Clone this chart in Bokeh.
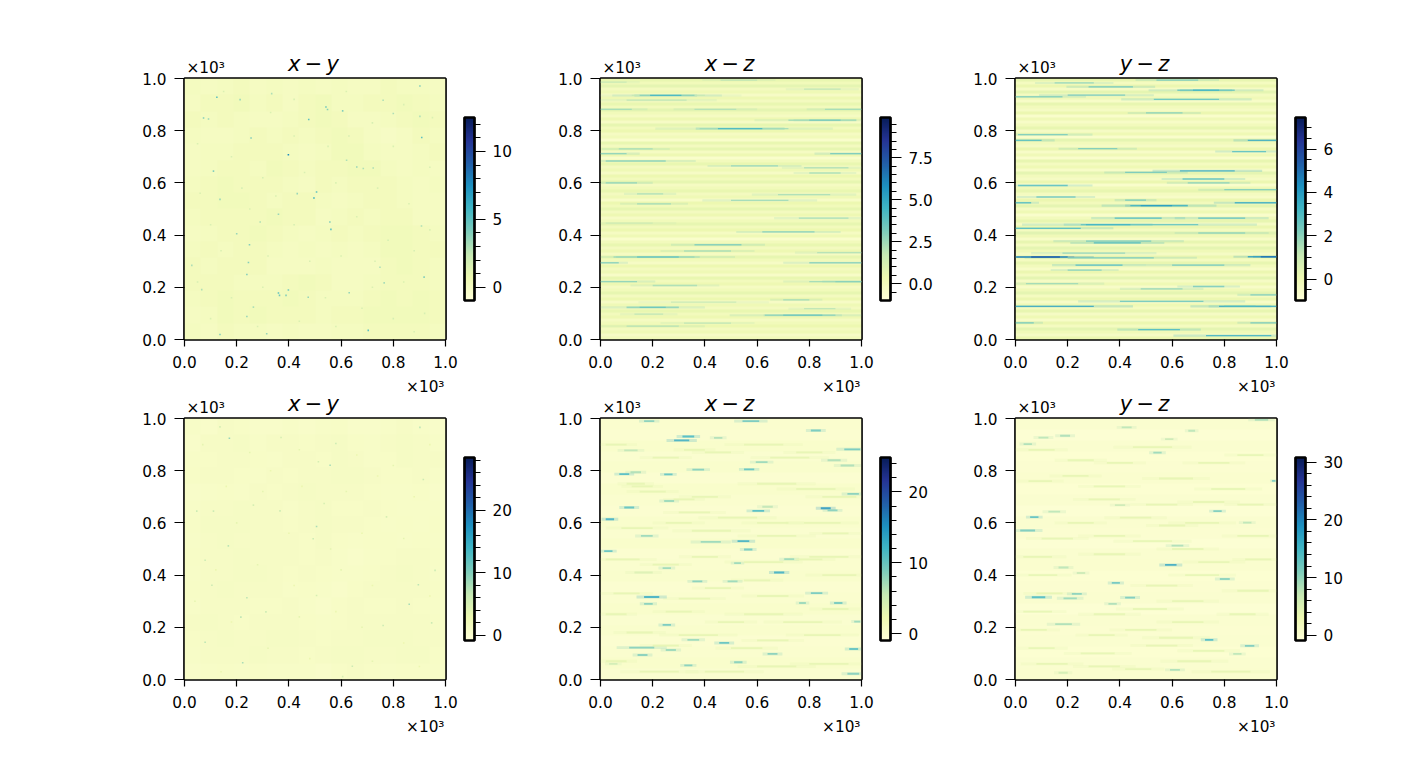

import numpy as np
from bokeh.embed import file_html
from bokeh.layouts import column, row
from bokeh.models import ColorBar, ColumnDataSource, FixedTicker, Label, LinearColorMapper, NumeralTickFormatter, Range1d
from bokeh.palettes import YlGnBu
from bokeh.plotting import figure
from bokeh.resources import INLINE

# ---------- values (positions in units of 10^3) ----------
AXIS_TICKS = [0.0, 0.2, 0.4, 0.6, 0.8, 1.0]
TITLES = ["x\u2009\u2212\u2009y", "x\u2009\u2212\u2009z", "y\u2009\u2212\u2009z"]

# colour limits of every panel
xy1_lim = (-0.98, 12.5)
xz1_lim = (-1.0, 9.9)
yz1_lim = (-0.99, 7.46)
xy2_lim = (-0.85, 28.4)
xz2_lim = (-0.96, 24.85)
yz2_lim = (-0.9, 30.8)

# colourbar ticks
xy1_major, xy1_minor = [0, 5, 10], [-1, 1, 2, 3, 4, 6, 7, 8, 9, 11, 12]
xz1_major, xz1_minor = [0.0, 2.5, 5.0, 7.5], [-0.5, 0.5, 1, 1.5, 2, 3, 3.5, 4, 4.5, 5.5, 6, 6.5, 7, 8, 8.5, 9, 9.5]
yz1_major, yz1_minor = [0, 2, 4, 6], [-0.5, 0.5, 1, 1.5, 2.5, 3, 3.5, 4.5, 5, 5.5, 6.5, 7]
xy2_major, xy2_minor = [0, 10, 20], [2, 4, 6, 8, 12, 14, 16, 18, 22, 24, 26, 28]
xz2_major, xz2_minor = [0, 10, 20], [2, 4, 6, 8, 12, 14, 16, 18, 22, 24]
yz2_major, yz2_minor = [0, 10, 20, 30], [2, 4, 6, 8, 12, 14, 16, 18, 22, 24, 26, 28]

# coarse background of the x-y panels, top row first
xy1_grid = [
    [.1,.0,.1,.2,.0,.1,.0,.1,.0,.1,.0,.0,.2,.1,.1,.0],
    [.0,.2,.2,.3,.1,.2,.0,.2,.3,.1,.1,.2,.2,.3,.2,.1],
    [.2,.1,.2,.1,.0,.0,.1,.2,.3,.2,.0,.0,.1,.2,.3,.2],
    [.1,.0,.0,.1,.2,.1,.2,.1,.2,.3,.2,.0,-.1,.0,.2,.1],
    [.0,.1,.1,.2,.2,.2,.1,.0,.1,.3,.3,.1,.0,.0,.1,.2],
    [.0,.1,.2,.2,.1,.3,.2,.1,.2,.2,.3,.3,.1,.0,.1,.0],
    [.1,.2,.3,.2,.2,.2,.1,.0,.2,.1,.2,.2,.2,.1,.0,.1],
    [.2,.2,.3,.3,.2,.1,.2,.2,.1,.0,.1,.2,.2,.1,.0,.0],
    [.1,.2,.2,.2,.2,.3,.2,.2,.0,.1,.2,.1,.2,.2,.0,.0],
    [.0,.1,.2,.2,.3,.2,.1,.0,.1,.2,.1,.2,.3,.3,.2,.1],
    [.1,.2,.1,.2,.2,.1,.0,.1,.0,.1,.0,.1,.3,.3,.2,.2],
    [.2,.1,.2,.2,.2,.0,.0,.0,.1,.0,.0,.0,.2,.3,.2,.1],
    [.2,.2,.2,.1,.1,.1,.2,.3,.2,.0,.0,.1,.2,.2,.2,.1],
    [.1,.2,.3,.2,.2,.2,.3,.2,.1,.1,.1,.2,.3,.2,.3,.2],
    [.0,.1,.3,.2,.3,.2,.2,.2,.1,.2,.2,.3,.3,.3,.3,.2],
    [.1,.0,.2,.1,.1,.0,.1,.0,.0,.1,.1,.2,.2,.2,.2,.1],
]
xy2_grid = [
    [.8,.7,1.0,.9,.7,.7,.8,.7,.8,.9,.7,.7,.8,1.0,.8,.7],
    [.7,1.0,1.0,1.1,.8,1.0,1.0,.9,1.0,1.1,.9,.8,1.0,1.2,1.0,.8],
    [.8,.9,1.0,1.0,.9,.8,1.0,1.0,.9,1.1,1.0,.8,.9,1.1,1.0,1.0],
    [.9,1.0,1.0,.9,.8,1.0,.9,1.0,1.0,1.2,1.1,1.0,.9,.9,1.0,.8],
    [.7,.8,.9,.8,1.0,.9,1.0,1.1,1.0,1.0,1.0,.9,.8,.8,.9,.7],
    [.8,1.0,1.0,1.1,1.0,1.0,.8,1.0,1.1,.9,.9,1.0,.9,.8,.8,.8],
    [.9,1.1,1.1,1.1,1.0,1.0,.9,1.0,1.2,1.0,1.0,.9,.8,.9,.8,.9],
    [.8,1.0,1.1,1.0,1.0,1.0,1.0,.9,1.1,.9,.8,.9,.9,.8,.9,.8],
    [.9,1.0,1.0,1.1,1.0,1.0,1.0,.9,1.0,.8,.7,.8,.9,1.0,1.0,.9],
    [.8,1.0,1.0,1.1,1.1,1.0,.9,1.0,.9,.8,.8,.9,1.0,1.1,1.0,.8],
    [.9,1.0,1.1,1.0,1.0,1.0,.8,.9,.8,.7,.9,1.0,1.0,1.0,1.0,.9],
    [.8,1.0,1.0,1.0,.9,.9,1.0,.8,.7,.9,1.0,.9,.9,1.0,.9,.8],
    [1.0,1.1,1.0,.9,1.0,1.0,1.0,.9,.8,.9,1.0,1.0,1.0,1.0,1.0,.9],
    [.9,1.0,1.1,1.0,1.0,1.1,1.1,1.0,.9,1.0,1.0,1.1,1.1,1.1,1.0,1.0],
    [.8,1.0,1.0,1.0,1.1,1.0,1.0,.9,1.0,1.1,1.1,1.0,1.0,1.1,1.1,.9],
    [.7,.8,.9,.8,.9,.8,.8,.8,.7,.9,1.0,.9,.8,.9,.9,.8],
]

# bright specks of the x-y panels: (x, y, value)
xy1_specks = [(.124,.928,5),(.213,.919,3.5),(.073,.849,4),(.092,.845,3.5),(.398,.708,7.5),(.496,.542,6),(.506,.565,5),
    (.542,.891,4.5),(.548,.881,4),(.476,.843,5),(.606,.876,4),(.255,.772,4),(.909,.774,5),(.111,.645,4),(.66,.661,3.5),
    (.685,.655,3),(.723,.657,3),(.621,.687,3),(.432,.559,3.5),(.557,.45,4),(.561,.422,5),(.36,.48,3.5),(.29,.45,3),
    (.136,.537,3.5),(.2,.405,3.5),(.249,.363,4),(.245,.295,4),(.028,.284,3),(.239,.249,4),(.36,.178,5),(.364,.169,4.5),
    (.398,.19,4.5),(.389,.169,4),(.474,.162,3.5),(.631,.179,3.5),(.704,.035,5),(.136,.019,4),(.315,.022,3.5),(.066,.191,3),
    (.264,.124,3),(.239,.088,3.5),(.918,.239,4),(.749,.277,3),(.902,.971,4),(.902,.855,3),(.761,.917,3),(.8,.866,3),
    (.908,.435,3),(.765,.217,3.2),(.334,.942,3),
    (.15,.95,1.6),(.33,.87,1.5),(.42,.92,1.6),(.62,.95,1.5),(.72,.83,1.7),(.84,.9,1.6),(.95,.85,1.5),(.05,.75,1.5),
    (.18,.7,1.6),(.3,.62,1.7),(.42,.78,1.5),(.55,.74,1.6),(.63,.78,1.7),(.8,.74,1.5),(.94,.66,1.6),(.06,.56,1.5),
    (.22,.58,1.7),(.35,.55,1.5),(.46,.64,1.6),(.58,.6,1.5),(.74,.58,1.6),(.86,.52,1.5),(.1,.44,1.6),(.25,.5,1.5),
    (.42,.44,1.7),(.66,.47,1.5),(.78,.38,1.8),(.88,.34,1.7),(.94,.42,1.5),(.14,.34,1.6),(.32,.32,1.5),(.48,.3,1.6),
    (.6,.32,1.5),(.73,.3,1.6),(.84,.22,1.5),(.05,.22,1.7),(.18,.16,1.6),(.3,.2,1.5),(.54,.16,1.5),(.68,.12,1.6),
    (.8,.08,1.8),(.92,.1,1.7),(.44,.07,1.5),(.28,.05,1.6),(.1,.08,1.5),(.58,.05,1.5),(.88,.03,1.6),(.72,.2,1.5)]
xy2_specks = [(.172,.924,9),(.58,.904,6),(.558,.821,8),(.902,.966,7),(.915,.766,6),(.111,.645,6),(.366,.646,6),(.506,.586,8),
    (.493,.539,6),(.168,.512,7),(.079,.457,6),(.105,.361,6),(.239,.313,7),(.216,.239,7),(.312,.259,6),(.861,.288,8),
    (.896,.363,7),(.947,.217,6),(.079,.143,7),(.223,.064,8),(.643,.051,6),(.513,.834,5),(.37,.927,5),(.136,.968,5),
    (.047,.645,6),(.264,.668,5),(.535,.674,5),(.774,.623,5),(.96,.418,6),(.606,.011,5),(.761,.207,6),(.506,.322,5),
    (.07,.9,3.5),(.25,.87,3.5),(.33,.8,3),(.44,.88,3.5),(.66,.86,3),(.8,.82,3.5),(.94,.9,3),(.16,.74,3),(.3,.72,3.5),
    (.45,.74,3),(.62,.72,3.5),(.74,.78,3),(.88,.7,3),(.2,.6,3.5),(.4,.56,3),(.56,.5,3.5),(.68,.56,3),(.84,.54,3.5),
    (.12,.42,3),(.28,.44,3.5),(.42,.36,3),(.6,.42,3.5),(.72,.36,3),(.94,.32,3),(.04,.3,3.5),(.18,.22,3),(.44,.24,3.5),
    (.58,.26,3),(.68,.2,3.5),(.84,.14,3),(.32,.12,3.5),(.48,.08,3),(.72,.07,3.5),(.9,.05,3),(.14,.03,3)]

# horizontal banding of the top x-z and y-z panels, top row first
xz1_rows = [.5,.1,.7,-.1,.2,-.3,.3,-.1,.5,.0,.7,.1,-.2,.3,-.3,.6,.0,.4,-.2,.1,-.5,.5,-.1,.6,-.2,.3,-.5,.0,.5,-.1,
    .2,-.3,.4,.0,.6,-.2,.1,.5,-.1,.2,-.4,.4,.1,.6,-.1,.3,-.3,.1,.6,.0,.4,-.2,.2,-.5,.0,.5,-.1,.3,-.2,.6,
    .1,-.3,.4,-.1,.2,-.4,.5,.0,.3,-.2,.1,.6,-.1,.4,-.3,.2,-.1,.5,.0,.3,-.2,.1,.4,-.1,.2,-.3,.1]
yz1_rows = [.2,-.3,.1,-.4,.3,-.3,-.1,-.5,.2,-.2,-.4,.1,-.6,-.1,-.5,-.2,.2,-.4,.0,-.6,.3,-.2,-.4,.1,-.5,-.1,-.6,.2,-.3,.0,
    -.5,.3,-.2,-.4,.1,-.6,-.1,.2,-.3,-.5,.1,-.2,.3,-.4,.0,-.6,-.2,.2,-.4,.1,-.3,.4,-.1,-.5,.2,-.3,.3,-.1,-.4,.1,
    -.3,.2,-.2,-.5,.1,-.3,.3,-.4,.0,-.5,-.1,.3,-.3,.1,-.5,.0,-.3,.2,-.4,.0,-.5,.1,-.3,.3,-.1,-.4,.1]
xz2_rows = [.0,-.2,.2,-.1,.1,-.2,.2,.0,-.2,.1,-.1,.2,-.2,.0,.1,-.2,.0,.2,-.1,.1,-.2,.0,.2,-.1]
yz2_rows = [.1,-.2,.2,-.1,.0,.3,-.1,.1,-.2,.2,.0,-.2,.1,.3,-.1,.0,.2,-.2,.1,.0,.2,-.1,.1,.3]

# streaks: (y, x start, x end, value)
xz1_streaks = [(.935,.12,.40,1.8),(.935,.15,.36,3),(.935,.19,.31,4.5),(.917,.10,.33,2),(.882,0,.12,2.5),(.882,.36,.52,2.2),
    (.882,.86,1,2.5),(.84,.72,.98,2.5),(.84,.8,.92,3.2),(.959,.78,.92,2),(.808,.38,.72,2.5),(.808,.45,.62,4.5),(.73,.07,.2,2.5),
    (.712,0,.1,3),(.712,.88,1,3.5),(.684,.02,.25,3),(.665,.5,.68,2.8),(.658,.78,.95,2.2),(.638,.8,.92,2.4),(.6,.02,.14,3),
    (.558,.14,.24,2.4),(.555,.68,.88,2.4),(.533,.5,.72,2.6),(.52,.14,.27,2.6),(.465,.76,.95,2.5),(.446,.02,.2,1.6),
    (.412,.62,.82,3.2),(.363,.36,.54,3.2),(.339,.32,.5,2.4),(.333,.83,1,2.2),(.316,.05,.36,2.6),(.316,.14,.3,3.6),
    (.294,0,.07,3),(.294,.8,1,3),(.222,0,.14,3),(.222,.8,1,2.6),(.222,.9,1,3),(.207,.2,.37,2.4),(.152,.7,.8,2.6),
    (.143,.27,.52,1.8),(.123,.1,.3,2.8),(.123,.15,.25,3.6),(.118,.78,.9,2),(.097,.13,.24,2),(.093,.63,.9,2.8),
    (.093,.7,.85,3.4),(.051,.1,.3,2.2),(.063,.32,.5,2),(.994,.46,.6,2),(.986,0,.1,1.8)]
yz1_streaks = [(.316,0,.2,4.5),(.316,.06,.17,5.5),(.317,.89,1,4),(.317,.94,1,5),(.313,.2,.53,2.5),(.285,.23,.41,3.2),
    (.266,.2,.33,2.2),(.426,0,.25,3.2),(.44,.25,.7,2.8),(.44,.27,.44,3.3),(.465,.38,.56,3.3),(.465,.7,.88,3),(.37,.3,.48,3.3),
    (.377,.27,.52,2.5),(.513,.44,.66,3.4),(.513,.48,.6,4),(.534,.42,.5,2.6),(.524,.84,1,3.6),(.524,0,.06,3),(.546,.08,.23,2.5),
    (.59,.01,.2,3),(.646,.63,.84,3.6),(.64,.42,.58,2.5),(.615,.64,.8,2.8),(.6,.66,.82,2.2),(.574,.8,1,2.3),(.763,0,.1,3),
    (.763,.89,1,3.6),(.785,.01,.2,2.4),(.72,.83,.96,3),(.731,.24,.39,2.4),(.955,.62,.84,2.6),(.955,.68,.78,3.2),(.92,.53,.78,2.8),
    (.936,.2,.42,2.5),(.93,0,.18,2.2),(.983,.15,.3,2),(.968,.28,.45,2.6),(.994,.54,.7,2.4),(.868,.5,.64,2.2),(.127,0,.3,3.8),
    (.127,.78,1,3.6),(.127,.8,.92,3),(.146,.4,.72,2.6),(.038,.47,.63,3.2),(.015,.73,.98,3.5),(.203,.68,.8,2.4),(.194,.48,.64,2),
    (.408,.7,.88,2),(.285,.6,.8,2.6),(.331,.18,.42,2),(.214,.04,.24,1.8),(.064,0,.07,2.6),(.064,.9,1,2.5),(.171,.9,1,2.3)]
xz2_streaks = [(.9,.02,.1,3),(.85,.2,.3,3),(.88,.32,.4,3),(.87,.4,.5,3),(.9,.55,.7,3),(.85,.65,.8,3),(.87,.75,.85,3),
    (.74,.12,.2,3),(.72,.15,.25,3),(.75,.1,.17,3),(.69,.28,.36,3),(.7,.35,.45,3),(.75,.6,.75,3),(.73,.75,.9,3),(.7,.85,.98,3),
    (.64,.3,.42,3),(.6,.25,.35,3),(.62,.45,.6,3),(.6,.6,.72,3),(.6,.78,.92,3),(.58,.08,.2,3),(.57,.35,.5,3),(.55,.6,.75,3),
    (.56,.85,.95,3),(.46,.02,.15,3),(.41,.13,.2,4),(.44,.2,.3,3),(.47,.35,.45,3),(.45,.55,.7,3),(.47,.8,.95,3),(.46,.75,.85,3),
    (.33,.05,.15,3),(.31,.3,.42,3),(.35,.4,.5,3),(.38,.55,.65,3),(.32,.6,.72,3),(.4,.85,.98,3),(.25,.02,.1,3),(.26,.25,.35,3),
    (.22,.45,.55,3),(.25,.55,.7,3),(.22,.7,.85,3),(.27,.85,.95,3),(.18,.1,.2,3),(.17,.3,.45,3),(.15,.6,.72,3),(.17,.78,.92,3),
    (.07,.02,.1,3),(.03,.15,.3,3),(.03,.4,.55,3),(.05,.6,.75,3),(.06,.8,.95,3),(.13,.2,.3,3),(.12,.5,.62,3),
    (.931,.314,.359,12),(.916,.282,.34,13),(.99,.167,.206,9),(.99,.544,.608,10),(.954,.806,.844,10),(.882,.934,.995,10),
    (.926,.435,.467,7),(.878,.091,.142,6),(.787,.072,.11,12),(.794,.115,.155,7),(.786,.244,.276,11),(.804,.352,.397,9),
    (.805,.55,.589,11),(.833,.595,.64,8),(.84,.87,.92,7),(.82,.92,.972,7),(.659,.091,.129,11),(.614,.02,.052,13),
    (.646,.582,.627,12),(.656,.844,.882,15),(.648,.87,.908,9),(.662,.62,.66,6),(.711,.946,.99,9),(.684,.244,.282,8),
    (.55,.155,.2,8),(.527,.384,.461,8),(.53,.525,.57,13),(.498,.55,.582,10),(.492,.014,.046,11),(.461,.704,.742,8),
    (.446,.512,.538,8),(.41,.665,.704,13),(.427,.238,.27,8),(.376,.352,.39,9),(.376,.487,.525,8),(.331,.806,.85,10),
    (.316,.167,.225,13),(.29,.167,.2,9),(.293,.895,.927,10),(.293,.761,.787,8),(.209,.238,.27,10),(.222,.972,.995,8),
    (.14,.455,.493,11),(.152,.333,.378,8),(.122,.11,.206,9),(.113,.25,.289,8),(.117,.953,.987,11),(.098,.64,.678,9),
    (.054,.321,.352,9),(.066,.512,.544,9),(.022,.946,.991,9),(.06,.033,.065,5),(.094,.142,.18,9)]
yz2_streaks = [(.88,.05,.15,4),(.84,.2,.3,4),(.83,.35,.45,4),(.89,.45,.6,4),(.83,.7,.82,4),(.86,.85,.95,4),(.76,.05,.14,4),
    (.78,.18,.28,4),(.74,.3,.42,4),(.77,.55,.68,4),(.73,.75,.88,4),(.69,.28,.4,4),(.67,.5,.62,4),(.68,.68,.8,4),(.67,.85,.95,4),
    (.6,.2,.3,4),(.62,.4,.52,4),(.59,.55,.65,4),(.6,.65,.78,4),(.54,.1,.22,4),(.55,.3,.42,4),(.53,.45,.6,4),(.5,.6,.72,4),
    (.55,.85,.97,4),(.47,.03,.14,4),(.48,.3,.42,4),(.45,.7,.82,4),(.46,.88,.98,4),(.4,.05,.16,4),(.36,.5,.62,4),(.4,.65,.78,4),
    (.33,.08,.18,4),(.3,.6,.72,4),(.34,.85,.97,4),(.26,.03,.14,4),(.25,.3,.42,4),(.27,.45,.58,4),(.22,.6,.72,4),(.25,.82,.92,4),
    (.19,.02,.12,4),(.19,.42,.54,4),(.17,.28,.38,4),(.16,.55,.68,4),(.12,.05,.15,4),(.1,.25,.38,4),(.13,.5,.62,4),(.11,.68,.8,4),
    (.06,.08,.2,4),(.05,.28,.4,4),(.07,.62,.75,4),(.03,.75,.9,4),(.04,.42,.52,4),
    (.315,.0625,.114,15),(.622,.056,.088,14),(.571,.018,.075,12),(.439,.573,.617,17),(.37,.369,.4,13),(.328,.216,.254,11),
    (.311,.184,.235,10),(.314,.42,.458,12),(.385,.783,.821,11),(.152,.726,.758,15),(.129,.879,.915,12),(.212,.152,.216,9),
    (.645,.758,.79,12),(.995,.917,.968,9),(.869,.528,.56,10),(.761,.983,.996,12),(.934,.171,.209,9),(.927,.088,.126,8),
    (.902,.031,.063,9),(.966,.407,.445,8),(.953,.662,.688,8),(.921,.573,.605,7),(.513,.598,.643,9),(.668,.381,.42,7),
    (.643,.126,.171,8),(.601,.872,.904,8),(.429,.165,.203,8),(.408,.235,.267,7),(.29,.356,.388,9),(.098,.834,.866,8),
    (.037,.592,.63,9),(.026,.165,.2,6)]

# ---------- styling ----------
FONT = "DejaVu Sans"
TICK_PX = "15.3px"
_stops = np.array([[int(c[i:i + 2], 16) for i in (1, 3, 5)] for c in YlGnBu[9][::-1]], dtype=float)
_pos = np.linspace(0, 1, 256) * 8
PALETTE = ["#%02x%02x%02x" % tuple(int(round(np.interp(t, range(9), _stops[:, k]))) for k in range(3)) for t in _pos]


def style_axis(ax, tick_len, standoff):
    ax.axis_line_color = None
    ax.major_tick_in = 0
    ax.major_tick_out = tick_len
    ax.major_tick_line_color = "black"
    ax.major_tick_line_width = 1.2
    ax.minor_tick_in = 0
    ax.minor_tick_out = 0
    ax.major_label_text_font = FONT
    ax.major_label_text_font_size = TICK_PX
    ax.major_label_text_color = "black"
    ax.major_label_standoff = standoff


def panel(title, lim, major, minor, fmt, left, right, top, bottom, rows=None, grid=None, streaks=(), specks=(),
          bar_height=0.005):
    mapper = LinearColorMapper(palette=PALETTE, low=lim[0], high=lim[1])
    p = figure(frame_width=261, frame_height=261, width=left + 261 + right, height=top + 261 + bottom,
               min_border_left=left, min_border_right=right, min_border_top=top, min_border_bottom=bottom,
               x_range=Range1d(0, 1), y_range=Range1d(0, 1), output_backend="svg", toolbar_location=None,
               tools="", border_fill_color=None, outline_line_color="black", outline_line_width=2.7)
    p.grid.visible = False
    if rows is not None:
        img = np.array(rows[::-1], dtype=float).reshape(-1, 1)
    else:
        img = np.array(grid[::-1], dtype=float)
    p.image(image=[img], x=0, y=0, dw=1, dh=1, color_mapper=mapper)
    if len(streaks):
        ys, x0, x1, v = map(np.array, zip(*streaks))
        pad = (x1 - x0) * 0.5
        halo = ColumnDataSource(dict(y=ys, left=x0 - pad, right=x1 + pad, v=v))
        core = ColumnDataSource(dict(y=ys, left=x0, right=x1, v=v))
        fill = {"field": "v", "transform": mapper}
        p.hbar(y="y", left="left", right="right", height=bar_height * 1.6, source=halo, fill_color=fill,
               fill_alpha=0.22, line_color=None)
        p.hbar(y="y", left="left", right="right", height=bar_height, source=core, fill_color=fill,
               fill_alpha=0.8, line_color=None)
    if len(specks):
        xs, ys, v = map(np.array, zip(*specks))
        src = ColumnDataSource(dict(x=xs, y=ys, v=v))
        p.rect(x="x", y="y", width=0.006, height=0.006, source=src,
               fill_color={"field": "v", "transform": mapper}, line_color=None)
    for ax in (p.xaxis[0], p.yaxis[0]):
        ax.ticker = FixedTicker(ticks=AXIS_TICKS)
        ax.formatter = NumeralTickFormatter(format="0.0")
    style_axis(p.xaxis[0], 7, 9)
    style_axis(p.yaxis[0], 10, 8)
    common = dict(text_font=FONT, text_color="black", x_units="canvas", y_units="canvas")
    p.add_layout(Label(x=left + 129, y=top - 15, text=title, text_align="center", text_baseline="alphabetic",
                       text_font_size="21px", text_font_style="italic", **common), "above")
    p.add_layout(Label(x=left + 2, y=top - 11, text="\u00d710\u00b3", text_align="left",
                       text_baseline="alphabetic", text_font_size="15.3px", **common), "above")
    p.add_layout(Label(x=left + 260, y=top + 261 + 47, text="\u00d710\u00b3", text_align="right",
                       text_baseline="alphabetic", text_font_size="15.3px", **common), "above")
    cb = ColorBar(color_mapper=mapper, location=(280, 39), width=10, height=183, padding=0, margin=0,
                  ticker=FixedTicker(ticks=major, minor_ticks=minor), formatter=NumeralTickFormatter(format=fmt),
                  major_tick_in=0, major_tick_out=11, minor_tick_in=0, minor_tick_out=6,
                  major_tick_line_color="black", minor_tick_line_color="black",
                  major_tick_line_width=1.2, minor_tick_line_width=1, bar_line_color="black", bar_line_width=2.7,
                  major_label_text_font=FONT, major_label_text_font_size=TICK_PX, major_label_text_color="black",
                  label_standoff=7, background_fill_color=None, border_line_color=None, title=None)
    p.add_layout(cb)
    return p


T1, B1 = 78, 62
T2, B2 = 64, 81
row1 = row(
    panel(TITLES[0], xy1_lim, xy1_major, xy1_minor, "0", 184, 85, T1, B1, grid=xy1_grid, specks=xy1_specks),
    panel(TITLES[1], xz1_lim, xz1_major, xz1_minor, "0.0", 70, 84, T1, B1, rows=xz1_rows, streaks=xz1_streaks),
    panel(TITLES[2], yz1_lim, yz1_major, yz1_minor, "0", 70, 100, T1, B1, rows=yz1_rows, streaks=yz1_streaks),
    spacing=0,
)
row2 = row(
    panel(TITLES[0], xy2_lim, xy2_major, xy2_minor, "0", 184, 85, T2, B2, grid=xy2_grid, specks=xy2_specks),
    panel(TITLES[1], xz2_lim, xz2_major, xz2_minor, "0", 70, 84, T2, B2, rows=xz2_rows, streaks=xz2_streaks, bar_height=0.007),
    panel(TITLES[2], yz2_lim, yz2_major, yz2_minor, "0", 70, 100, T2, B2, rows=yz2_rows, streaks=yz2_streaks, bar_height=0.007),
    spacing=0,
    margin=(-47, 0, 0, 0),
)
page = column(row1, row2, spacing=0)
open("out.html", "w").write(file_html(page, INLINE))
